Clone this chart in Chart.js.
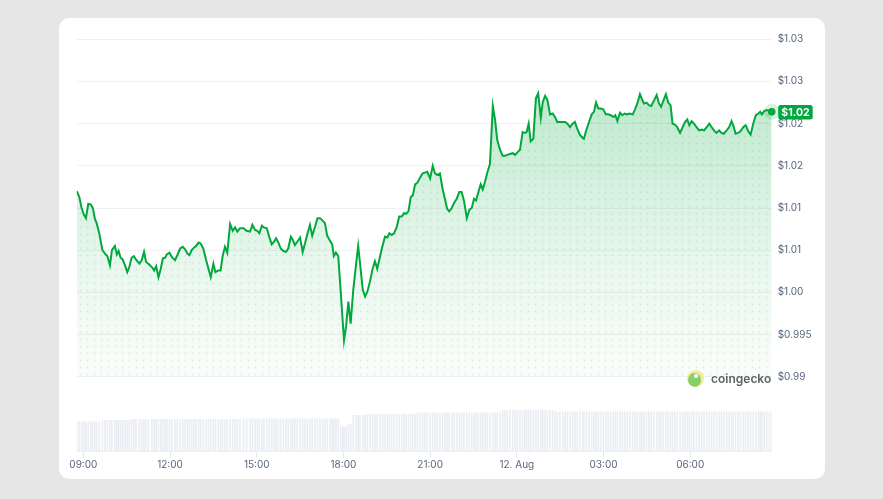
<!DOCTYPE html>
<html>
<head>
<meta charset="utf-8">
<script src="https://cdn.jsdelivr.net/npm/chart.js@4.4.1/dist/chart.umd.min.js"></script>
<style>
  body { margin: 0; background: #e6e6e6; width: 883px; height: 499px; overflow: hidden; }
  #cartao { position: absolute; left: 59px; top: 18px; width: 766px; height: 461px; background: #fff; border-radius: 10px; }
  #grafico { position: absolute; left: 0; top: 0; }
  #marca { position: absolute; left: 687px; top: 370px; display: flex; align-items: center; gap: 7px;
           font: 600 12px Inter, sans-serif; color: #616161; }
  #logo { width: 17px; height: 17px; border-radius: 50%; background: #f4ec9a; position: relative; overflow: hidden; }
  #logo .corpo { position: absolute; left: 1px; top: 3px; width: 13px; height: 14px; border-radius: 50%; background: #86cf6a; }
  #logo .olho { position: absolute; left: 7px; top: 4px; width: 4px; height: 4px; border-radius: 50%; background: #fff; }
</style>
</head>
<body>
<div id="cartao"></div>
<canvas id="grafico" width="883" height="499"></canvas>
<div id="marca"><div id="logo"><div class="corpo"></div><div class="olho"></div></div><span>coingecko</span></div>
<script>
// horas desde 00:00 de 11 Aug (24 = 12 Aug 00:00)
const times = [
  8.77,8.86,8.94,9.02,9.09,9.17,9.26,9.33,9.40,9.46,
  9.55,9.66,9.75,9.83,9.92,9.99,10.09,10.16,10.22,10.29,
  10.36,10.44,10.52,10.59,10.67,10.75,10.82,10.94,11.02,11.10,
  11.17,11.25,11.37,11.45,11.52,11.60,11.68,11.75,11.83,11.89,
  11.98,12.06,12.17,12.25,12.35,12.44,12.52,12.60,12.67,12.75,
  12.83,12.90,12.99,13.06,13.15,13.25,13.33,13.41,13.50,13.57,
  13.67,13.75,13.82,13.90,13.98,14.08,14.17,14.25,14.33,14.42,
  14.54,14.65,14.77,14.85,14.94,15.02,15.09,15.18,15.25,15.35,
  15.44,15.52,15.60,15.67,15.75,15.83,15.92,16.01,16.09,16.18,
  16.25,16.32,16.40,16.50,16.59,16.67,16.75,16.84,16.92,17.02,
  17.10,17.19,17.28,17.36,17.44,17.54,17.61,17.67,17.74,17.82,
  17.91,17.98,18.02,18.09,18.17,18.25,18.34,18.44,18.51,18.57,
  18.67,18.75,18.83,18.92,19.01,19.09,19.17,19.27,19.36,19.44,
  19.52,19.59,19.67,19.75,19.84,19.93,20.02,20.10,20.17,20.25,
  20.33,20.40,20.48,20.56,20.65,20.74,20.82,20.90,21.00,21.09,
  21.17,21.25,21.34,21.43,21.51,21.59,21.66,21.75,21.83,21.92,
  22.01,22.09,22.17,22.27,22.36,22.44,22.52,22.59,22.67,22.75,
  22.82,22.90,22.98,23.07,23.17,23.25,23.32,23.42,23.51,23.59,
  23.67,23.76,23.86,23.94,24.02,24.11,24.20,24.28,24.34,24.41,
  24.48,24.57,24.66,24.74,24.83,24.90,24.98,25.06,25.15,25.24,
  25.32,25.40,25.49,25.59,25.67,25.75,25.84,25.93,26.01,26.09,
  26.18,26.28,26.32,26.41,26.50,26.59,26.67,26.74,26.82,26.90,
  26.99,27.08,27.16,27.25,27.34,27.41,27.48,27.57,27.65,27.73,
  27.82,27.91,28.01,28.09,28.17,28.26,28.33,28.40,28.49,28.57,
  28.65,28.74,28.84,28.92,28.99,29.07,29.16,29.24,29.32,29.39,
  29.47,29.55,29.65,29.74,29.82,29.90,29.97,30.05,30.13,30.22,
  30.31,30.40,30.48,30.57,30.66,30.74,30.82,30.91,31.00,31.08,
  31.16,31.26,31.35,31.43,31.49,31.57,31.66,31.74,31.84,31.92,
  32.01,32.09,32.18,32.27,32.36,32.42,32.48,32.56,32.65,32.74,
  32.82
];

const prices = [
  1.0120,1.0113,1.0100,1.0092,1.0088,1.0105,1.0104,1.0100,1.0087,1.0082,
  1.0070,1.0050,1.0046,1.0043,1.0032,1.0050,1.0055,1.0045,1.0049,1.0041,
  1.0039,1.0032,1.0024,1.0030,1.0041,1.0043,1.0039,1.0034,1.0038,1.0048,
  1.0036,1.0034,1.0030,1.0026,1.0031,1.0018,1.0028,1.0040,1.0041,1.0045,
  1.0047,1.0042,1.0038,1.0044,1.0052,1.0054,1.0051,1.0046,1.0044,1.0050,
  1.0053,1.0055,1.0059,1.0058,1.0052,1.0038,1.0028,1.0018,1.0034,1.0024,
  1.0026,1.0026,1.0043,1.0054,1.0047,1.0081,1.0073,1.0077,1.0072,1.0076,
  1.0076,1.0073,1.0072,1.0080,1.0074,1.0073,1.0070,1.0079,1.0077,1.0076,
  1.0065,1.0057,1.0060,1.0064,1.0059,1.0052,1.0049,1.0048,1.0052,1.0066,
  1.0062,1.0056,1.0060,1.0065,1.0048,1.0058,1.0069,1.0080,1.0067,1.0078,
  1.0088,1.0088,1.0085,1.0082,1.0067,1.0061,1.0057,1.0043,1.0047,1.0043,
  0.9999,0.9963,0.9943,0.9959,0.9989,0.9963,1.0003,1.0034,1.0055,1.0036,
  1.0003,0.9995,1.0001,1.0013,1.0028,1.0037,1.0028,1.0043,1.0056,1.0066,
  1.0065,1.0070,1.0068,1.0070,1.0077,1.0090,1.0090,1.0094,1.0093,1.0096,
  1.0113,1.0115,1.0128,1.0130,1.0136,1.0141,1.0142,1.0143,1.0135,1.0150,
  1.0141,1.0139,1.0141,1.0123,1.0111,1.0099,1.0096,1.0100,1.0106,1.0111,
  1.0119,1.0119,1.0109,1.0088,1.0098,1.0100,1.0111,1.0109,1.0119,1.0128,
  1.0122,1.0131,1.0142,1.0152,1.0221,1.0204,1.0181,1.0169,1.0162,1.0162,
  1.0163,1.0164,1.0165,1.0163,1.0166,1.0169,1.0190,1.0189,1.0190,1.0200,
  1.0179,1.0182,1.0230,1.0236,1.0207,1.0226,1.0233,1.0228,1.0211,1.0212,
  1.0208,1.0202,1.0202,1.0202,1.0202,1.0200,1.0196,1.0200,1.0202,1.0194,
  1.0187,1.0183,1.0182,1.0193,1.0202,1.0211,1.0214,1.0225,1.0218,1.0218,
  1.0217,1.0211,1.0211,1.0210,1.0208,1.0210,1.0203,1.0213,1.0210,1.0212,
  1.0211,1.0212,1.0211,1.0217,1.0224,1.0235,1.0229,1.0224,1.0225,1.0222,
  1.0221,1.0227,1.0234,1.0224,1.0220,1.0227,1.0235,1.0225,1.0222,1.0200,
  1.0199,1.0196,1.0189,1.0196,1.0202,1.0205,1.0198,1.0203,1.0200,1.0196,
  1.0192,1.0193,1.0192,1.0196,1.0200,1.0196,1.0192,1.0189,1.0192,1.0189,
  1.0188,1.0192,1.0196,1.0203,1.0198,1.0188,1.0189,1.0191,1.0196,1.0198,
  1.0191,1.0187,1.0200,1.0210,1.0212,1.0214,1.0211,1.0215,1.0216,1.0215,
  1.0214
];

// volume 24h (milhoes de USD)
const volumes = [
  60,60,60,60,60,60,60,60,60,60,
  60,63,63,63,63,63,63,63,63,63,
  63,63,63,63,65,65,65,65,65,65,
  65,65,65,65,65,65,65,65,65,65,
  65,65,65,65,65,65,65,65,65,65,
  65,65,65,65,65,65,65,65,65,65,
  65,65,65,65,65,65,65,65,65,65,
  66,66,66,66,66,66,66,66,66,66,
  66,66,66,66,66,66,66,66,66,66,
  66,66,66,66,66,66,66,66,66,66,
  66,66,66,66,66,66,66,66,66,66,
  50,50,50,50,55,55,73,73,73,73,
  73,73,75,75,75,75,75,75,75,75,
  75,75,75,75,75,75,75,75,75,75,
  75,75,75,78,78,78,78,78,78,78,
  78,78,78,78,78,78,78,78,78,78,
  78,78,78,78,78,78,78,78,78,78,
  78,78,78,78,78,78,78,78,83,83,
  83,83,83,83,83,83,83,83,83,83,
  83,83,83,83,83,83,83,83,83,83,
  80,80,80,80,80,80,80,80,80,80,
  80,80,80,80,80,80,80,80,80,80,
  80,80,80,80,80,80,80,80,80,80,
  80,80,80,80,80,80,80,80,80,80,
  80,80,80,80,80,80,80,80,80,80,
  80,80,80,80,80,80,80,80,80,80,
  80,80,80,80,80,80,80,80,80,80,
  80,80,80,80,80,80,80,80,80,80,
  80,80,80,80,80,80,80,80,80,80,
  80
];

const xTicks = [9, 12, 15, 18, 21, 24, 27, 30];
const xTickLabels = ["09:00", "12:00", "15:00", "18:00", "21:00", "12. Aug", "03:00", "06:00"];
const yTicks = [0.99, 0.995, 1.0, 1.005, 1.01, 1.015, 1.02, 1.025, 1.03];
const yTickLabels = ["$0.99", "$0.995", "$1.00", "$1.01", "$1.01", "$1.02", "$1.02", "$1.03", "$1.03"];

const verde = "#00a83e";
const corTexto = "#58667e";

Chart.defaults.font.family = "Inter, sans-serif";

function pontosPreco() {
  return times.map((t, i) => ({ x: t, y: prices[i] }));
}

function criarPadraoPontos() {
  const c = document.createElement("canvas");
  c.width = 7;
  c.height = 7;
  const p = c.getContext("2d");
  p.fillStyle = "rgba(0,140,50,0.13)";
  p.beginPath();
  p.arc(3.5, 3.5, 0.9, 0, Math.PI * 2);
  p.fill();
  return p.createPattern(c, "repeat");
}

function gradienteArea(context) {
  const chart = context.chart;
  if (!chart.chartArea) return "rgba(0,168,62,0.1)";
  const y = chart.scales.y;
  const g = chart.ctx.createLinearGradient(0, y.getPixelForValue(1.024), 0, y.getPixelForValue(0.99));
  g.addColorStop(0, "rgba(0,168,62,0.26)");
  g.addColorStop(0.6, "rgba(0,168,62,0.09)");
  g.addColorStop(1, "rgba(0,168,62,0.02)");
  return g;
}

const marcadorFinal = {
  id: "marcadorFinal",
  afterDatasetsDraw(chart) {
    const ctx = chart.ctx;
    const ultimo = prices[prices.length - 1];
    const x = chart.scales.x.getPixelForValue(times[times.length - 1]);
    const y = chart.scales.y.getPixelForValue(ultimo);
    ctx.save();
    ctx.fillStyle = "rgba(0,168,62,0.15)";
    ctx.beginPath();
    ctx.arc(x, y, 8, 0, Math.PI * 2);
    ctx.fill();
    ctx.fillStyle = verde;
    ctx.beginPath();
    ctx.arc(x, y, 3.8, 0, Math.PI * 2);
    ctx.fill();

    const bx = chart.chartArea.right + 6.5;
    ctx.beginPath();
    ctx.roundRect(bx, y - 6.8, 34.5, 14.5, 2.5);
    ctx.fill();
    ctx.fillStyle = "#fff";
    ctx.font = "700 10.5px Inter, sans-serif";
    ctx.textAlign = "center";
    ctx.textBaseline = "middle";
    ctx.fillText("$" + ultimo.toFixed(2), bx + 17.25, y + 0.6);
    ctx.restore();
  },
};

const padraoPontos = criarPadraoPontos();

const grafico = new Chart(document.getElementById("grafico"), {
  data: {
    datasets: [
      {
        type: "line",
        data: pontosPreco(),
        borderColor: verde,
        borderWidth: 2,
        pointRadius: 0,
        fill: false,
        order: 0,
      },
      {
        type: "line",
        data: pontosPreco(),
        borderWidth: 0,
        pointRadius: 0,
        backgroundColor: padraoPontos,
        fill: { value: 0.99 },
        order: 1,
      },
      {
        type: "line",
        data: pontosPreco(),
        borderWidth: 0,
        pointRadius: 0,
        backgroundColor: gradienteArea,
        fill: { value: 0.99 },
        order: 2,
      },
      {
        type: "bar",
        data: times.map((t, i) => ({ x: t, y: volumes[i] })),
        backgroundColor: "#eaedf2",
        barThickness: 1,
        yAxisID: "yv",
        order: 3,
      },
    ],
  },
  options: {
    responsive: false,
    animation: false,
    layout: { padding: { left: 76.7, top: 39.3, right: 0, bottom: 0 } },
    plugins: { legend: { display: false }, tooltip: { enabled: false } },
    scales: {
      x: {
        type: "linear",
        position: "bottom",
        offset: false,
        min: times[0],
        max: times[times.length - 1],
        afterBuildTicks: (s) => { s.ticks = xTicks.map((v) => ({ value: v })); },
        afterFit: (s) => { s.height = 47.3; },
        ticks: {
          autoSkip: false,
          maxRotation: 0,
          padding: 1,
          color: corTexto,
          font: { size: 10 },
          callback: (v, i) => xTickLabels[i],
        },
        grid: { offset: false, drawOnChartArea: false, tickLength: 6, color: "#e6e9ee" },
        border: { color: "#eef0f3" },
      },
      y: {
        position: "right",
        min: 0.98111,
        max: 1.03,
        afterBuildTicks: (s) => { s.ticks = yTicks.map((v) => ({ value: v })); },
        afterFit: (s) => { s.width = 111.3; },
        ticks: {
          padding: 6,
          color: corTexto,
          font: { size: 10 },
          callback: (v, i) => yTickLabels[i],
        },
        grid: { color: "#f0f1f3", drawTicks: false },
        border: { display: false },
      },
      yv: {
        display: false,
        min: 0,
        max: 825,
      },
    },
  },
  plugins: [marcadorFinal],
});
</script>
</body>
</html>
